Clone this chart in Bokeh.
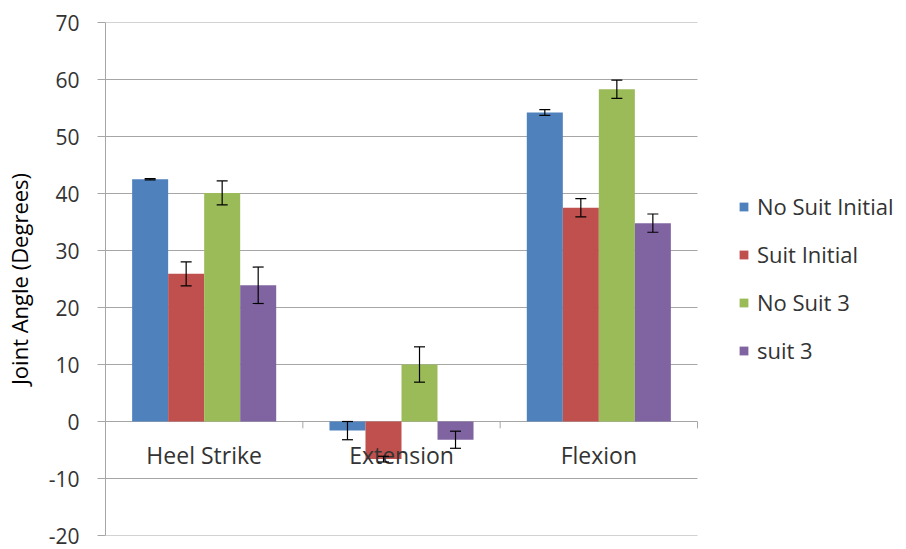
from bokeh.plotting import figure
from bokeh.models import (ColumnDataSource, Range1d, Legend, LegendItem,
                          Whisker, TeeHead, FixedTicker)
from bokeh.core.properties import value
from bokeh.embed import file_html
from bokeh.resources import INLINE

categories = ["Heel Strike", "Extension", "Flexion"]
series_names = ["No Suit Initial", "Suit Initial", "No Suit 3", "suit 3"]
no_suit_initial = [42.5, -1.6, 54.2]
no_suit_initial_err = [0.1, 1.6, 0.5]
suit_initial = [25.9, -6.6, 37.5]
suit_initial_err = [2.1, 0.5, 1.6]
no_suit_3 = [40.1, 10.0, 58.3]
no_suit_3_err = [2.1, 3.1, 1.6]
suit_3 = [23.9, -3.2, 34.8]
suit_3_err = [3.2, 1.5, 1.6]
y_ticks = [-20, -10, 0, 10, 20, 30, 40, 50, 60, 70]

colors = ["#4F81BD", "#C0504D", "#9BBB59", "#8064A2"]
FONT = "Open Sans"
TXT = "#333333"
GRID = "#a6a6a6"

values = [no_suit_initial, suit_initial, no_suit_3, suit_3]
errors = [no_suit_initial_err, suit_initial_err, no_suit_3_err, suit_3_err]

W, H = 904, 549
LEFT, TOP, BOTTOM = 105, 22, 14
CAT_PX = 592  # pixel width of the category area
frame_w = W - LEFT
ncat = len(categories)
x_end = ncat * frame_w / CAT_PX
cat_x = [i + 0.5 for i in range(ncat)]

p = figure(x_range=Range1d(0, x_end),
           y_range=Range1d(y_ticks[0], y_ticks[-1]),
           width=W, height=H, output_backend="svg", toolbar_location=None,
           min_border_left=LEFT, min_border_right=0, min_border_top=TOP,
           min_border_bottom=BOTTOM)
p.outline_line_color = None
p.background_fill_color = "white"
p.xaxis.visible = False
p.xgrid.visible = False
p.ygrid.visible = False
p.yaxis.ticker = FixedTicker(ticks=y_ticks)
p.yaxis.major_label_overrides = {t: str(t) for t in y_ticks}
p.yaxis.axis_line_color = GRID
p.yaxis.major_tick_line_color = GRID
p.yaxis.major_tick_out = 8
p.yaxis.major_tick_in = 0
p.yaxis.minor_tick_line_color = None
p.yaxis.major_label_standoff = 18
p.yaxis.major_label_text_font = FONT
p.yaxis.major_label_text_font_size = "21px"
p.yaxis.major_label_text_color = TXT
p.yaxis.axis_label = "Joint Angle (Degrees)"
p.yaxis.axis_label_text_font = FONT
p.yaxis.axis_label_text_font_size = "22px"
p.yaxis.axis_label_text_font_style = "normal"
p.yaxis.axis_label_text_color = "black"
p.yaxis.axis_label_standoff = 12

# horizontal grid lines over the category area
p.segment(x0=[0] * len(y_ticks), y0=y_ticks, x1=[ncat] * len(y_ticks), y1=y_ticks,
          line_color=GRID, line_width=1)

n = len(series_names)
bar_w = 0.1825
items = []
for i, (name, vals, errs, col) in enumerate(zip(series_names, values, errors, colors)):
    off = (i - (n - 1) / 2) * bar_w
    xs = [c + off for c in cat_x]
    src = ColumnDataSource(dict(x=xs, val=vals,
                                upper=[v + e for v, e in zip(vals, errs)],
                                lower=[v - e for v, e in zip(vals, errs)]))
    r = p.vbar(x="x", top="val", bottom=0, width=bar_w,
               source=src, fill_color=col, line_color=None)
    items.append(LegendItem(label=name, renderers=[r]))
    w = Whisker(base="x", upper="upper", lower="lower", source=src,
                line_color="black", line_width=1.2, level="overlay",
                upper_head=TeeHead(size=11, line_color="black", line_width=1.2),
                lower_head=TeeHead(size=11, line_color="black", line_width=1.2))
    p.add_layout(w)

# horizontal category axis at zero with tick marks at category boundaries
bounds = list(range(0, ncat + 1))
p.segment(x0=bounds, y0=[0] * len(bounds), x1=bounds, y1=[-1.2] * len(bounds),
          line_color=GRID, line_width=1)
p.text(x=cat_x, y=[0] * ncat, text=categories, y_offset=33,
       text_align="center", text_baseline="middle", text_font=value(FONT),
       text_font_size="23px", text_color=TXT)

legend = Legend(items=items, location=(CAT_PX + 41, 170), orientation="vertical")
legend.margin = 0
legend.padding = 0
legend.border_line_color = None
legend.background_fill_alpha = 0
legend.glyph_width = 11
legend.glyph_height = 11
legend.label_standoff = 8
legend.label_height = 22
legend.spacing = 18
legend.label_text_font = FONT
legend.label_text_font_size = "22px"
legend.label_text_color = TXT
p.add_layout(legend)

open("out.html", "w").write(file_html(p, INLINE))
